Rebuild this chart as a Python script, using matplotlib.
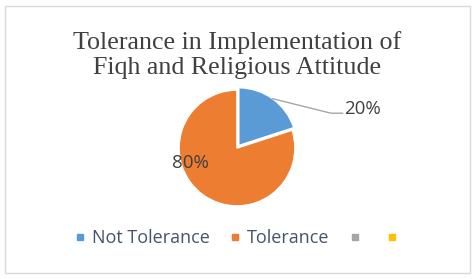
import numpy as np
import matplotlib.pyplot as plt
from matplotlib.patches import Rectangle
from matplotlib.lines import Line2D

# data
categories = ['Not Tolerance', 'Tolerance', '', '']
values = [20, 80, 0, 0]
colors = ['#5B9BD5', '#ED7D31', '#A5A5A5', '#FFC000']
title = 'Tolerance in Implementation of\nFiqh and Religious Attitude'

W, H = 474, 279
fig = plt.figure(figsize=(W / 100, H / 100), dpi=100)
fig.patch.set_facecolor('white')
# chart border
fig.add_artist(Rectangle((5 / W, 6 / H), 465 / W, 267 / H, transform=fig.transFigure,
                         fill=False, edgecolor='#D9D9D9', linewidth=1.0))

fig.text(0.5, 1 - 55 / H, title, ha='center', va='center', fontsize=18.7,
         family='Liberation Serif', color='#404040', linespacing=1.15)

# pie axes
cx, cy, r = 237, 148, 58
ax = fig.add_axes([(cx - r) / W, (H - cy - r) / H, 2 * r / W, 2 * r / H])
ax.axis('off')

vals = [v for v in values if v > 0]
cols = [c for c, v in zip(colors, values) if v > 0]
wedges, _ = ax.pie(vals, colors=cols, startangle=90, counterclock=False,
                   explode=[0.05, 0.0], radius=1.0,
                   wedgeprops=dict(edgecolor='white', linewidth=1.2))
ax.set_xlim(-1, 1)
ax.set_ylim(-1, 1)
ax.set_aspect('equal')
for w in wedges:
    w.set_clip_on(False)

tc = '#404040'
# 20% label with leader line
th = np.deg2rad((wedges[0].theta1 + wedges[0].theta2) / 2)
p0 = (1.05 * np.cos(th), 1.05 * np.sin(th))
ax.plot([p0[0], 1.62, 1.82], [p0[1], 0.60, 0.60], color='#A6A6A6', lw=1.0, clip_on=False)
ax.text(1.84, 0.67, f'{vals[0]}%', ha='left', va='center', fontsize=13.5,
        family='Open Sans', color=tc)
ax.text(-0.80, -0.26, f'{vals[1]}%', ha='center', va='center', fontsize=13.5,
        family='Open Sans', color=tc)

# legend
handles = [Line2D([], [], marker='s', ls='', markersize=4.6, color=c) for c in colors]
leg = fig.legend(handles, categories, loc='center', bbox_to_anchor=(240 / W, 1 - 238 / H),
                 ncol=4, frameon=False, handlelength=0.4, handletextpad=0.45,
                 columnspacing=1.2, prop=dict(family='Open Sans', size=13))
for t in leg.get_texts():
    t.set_color('#44546A')

fig.savefig('out.png', dpi=100)
